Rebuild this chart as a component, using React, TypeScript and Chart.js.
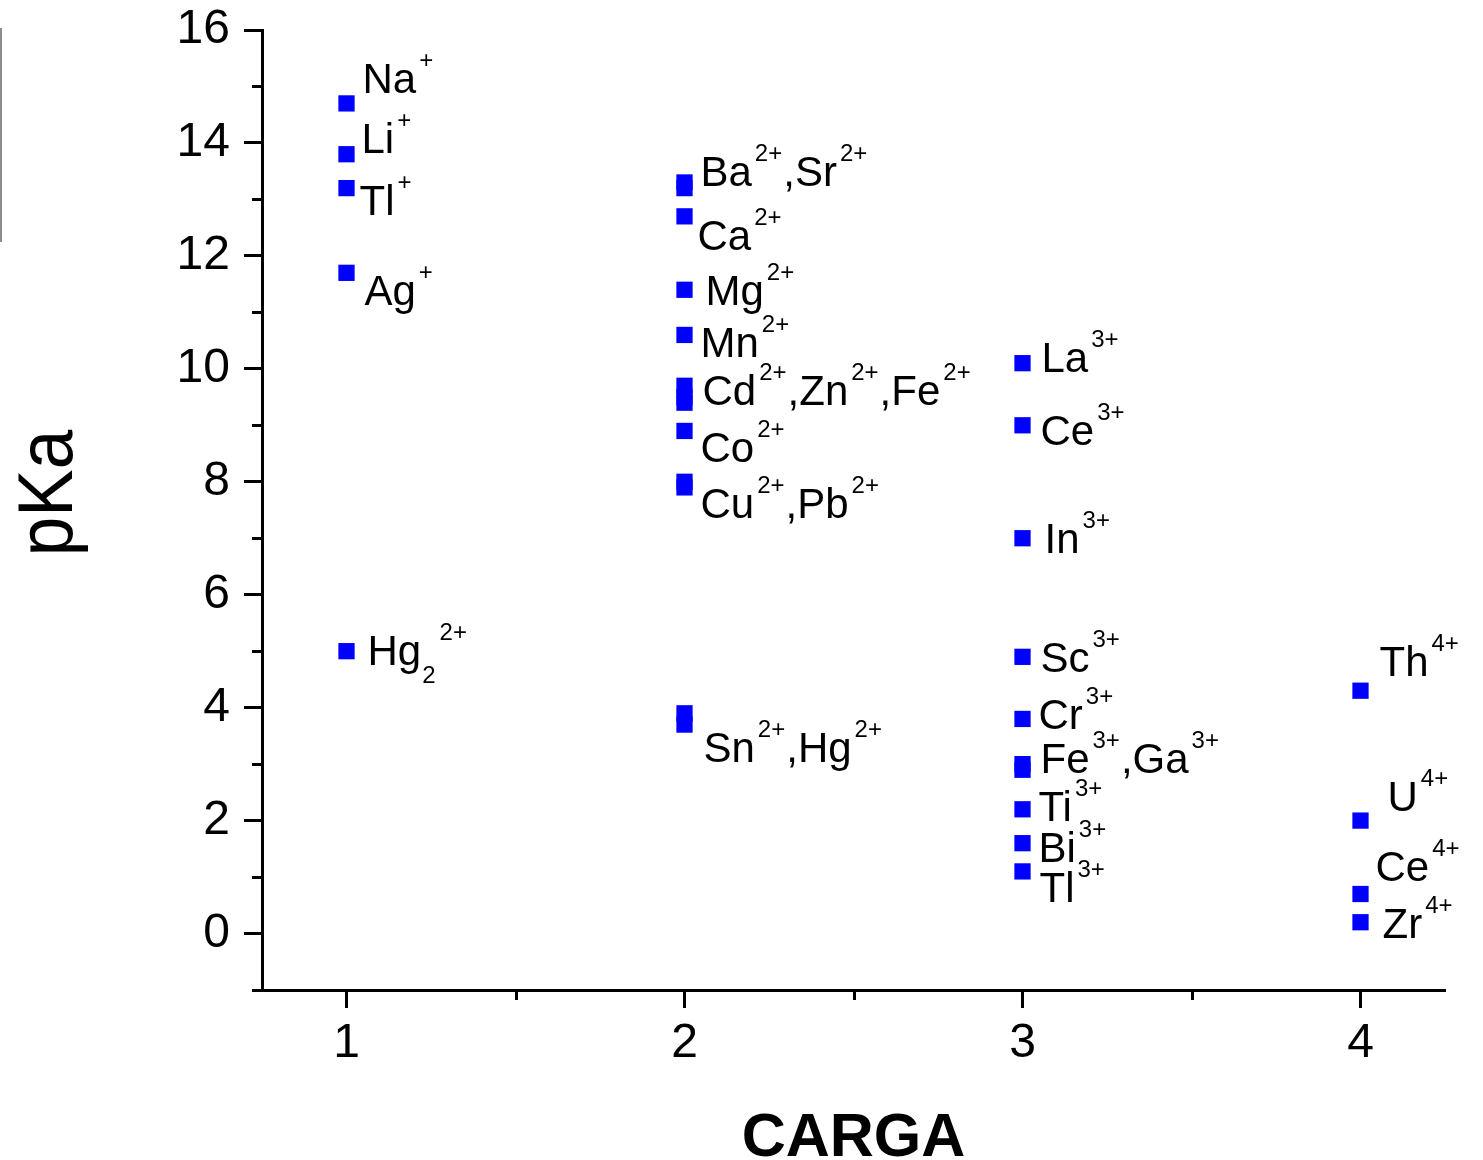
import React, { useEffect, useRef } from 'react';
import { Chart, registerables } from 'chart.js';

Chart.register(...registerables);

// ---------- data ----------
const ions = [
  'Na+', 'Li+', 'Tl+', 'Ag+', 'Hg2 2+',
  'Ba2+', 'Sr2+', 'Ca2+', 'Mg2+', 'Mn2+', 'Cd2+', 'Zn2+', 'Fe2+', 'Co2+', 'Cu2+', 'Pb2+', 'Sn2+', 'Hg2+',
  'La3+', 'Ce3+', 'In3+', 'Sc3+', 'Cr3+', 'Fe3+', 'Ga3+', 'Ti3+', 'Bi3+', 'Tl3+',
  'Th4+', 'U4+', 'Ce4+', 'Zr4+',
];
const charges = [
  1, 1, 1, 1, 1,
  2, 2, 2, 2, 2, 2, 2, 2, 2, 2, 2, 2, 2,
  3, 3, 3, 3, 3, 3, 3, 3, 3, 3,
  4, 4, 4, 4,
];
const pKaValues = [
  14.7, 13.8, 13.2, 11.7, 5.0,
  13.3, 13.2, 12.7, 11.4, 10.6, 9.7, 9.5, 9.4, 8.9, 8.0, 7.9, 3.9, 3.7,
  10.1, 9.0, 7.0, 4.9, 3.8, 3.0, 2.9, 2.2, 1.6, 1.1,
  4.3, 2.0, 0.7, 0.2,
];

const xTickValues = [1, 2, 3, 4];
const xMinorTickValues = [1.5, 2.5, 3.5];
const yTickValues = [0, 2, 4, 6, 8, 10, 12, 14, 16];
const yMinorTickValues = [-1, 1, 3, 5, 7, 9, 11, 13, 15];

const xAxisTitle = 'CARGA';
const yAxisTitle = 'pKa';

// labels: text with ^{sup} and _{sub} markup, attached to an ion
const labelAnchorIons = [
  'Na+', 'Li+', 'Tl+', 'Ag+', 'Hg2 2+',
  'Ba2+', 'Ca2+', 'Mg2+', 'Mn2+', 'Cd2+', 'Co2+', 'Cu2+', 'Sn2+',
  'La3+', 'Ce3+', 'In3+', 'Sc3+', 'Cr3+', 'Fe3+', 'Ti3+', 'Bi3+', 'Tl3+',
  'Th4+', 'U4+', 'Ce4+', 'Zr4+',
];
const labelTexts = [
  'Na^{+}', 'Li^{+}', 'Tl^{+}', 'Ag^{+}', 'Hg_{2}^{2+}',
  'Ba^{2+},Sr^{2+}', 'Ca^{2+}', 'Mg^{2+}', 'Mn^{2+}', 'Cd^{2+},Zn^{2+},Fe^{2+}', 'Co^{2+}', 'Cu^{2+},Pb^{2+}', 'Sn^{2+},Hg^{2+}',
  'La^{3+}', 'Ce^{3+}', 'In^{3+}', 'Sc^{3+}', 'Cr^{3+}', 'Fe^{3+},Ga^{3+}', 'Ti^{3+}', 'Bi^{3+}', 'Tl^{3+}',
  'Th^{4+}', 'U^{4+}', 'Ce^{4+}', 'Zr^{4+}',
];
// pixel offsets (dx to text start, dy to baseline) from the anchor point
const labelOffsets: [number, number][] = [
  [16, -10], [15, -1], [13, 27], [18, 32], [21, 14],
  [16, 4], [13, 34], [21, 15], [16, 22], [18, 19], [16, 31], [16, 36], [19, 49],
  [19, 9], [18, 20], [22, 15], [18, 15], [16, 10], [18, 9], [16, 12], [16, 19], [17, 31],
  [19, -15], [27, -10], [15, -13], [22, 16],
];

// ---------- styling ----------
const FONT = '"Liberation Sans", Arial, Helvetica, sans-serif';
const LABEL_SIZE = 42;
const SCRIPT_SIZE = 24;
const SUP_SHIFT = -25;
const SUB_SHIFT = 18;
const SCRIPT_GAP = 3;

type Part = { text: string; kind: 'n' | 'sup' | 'sub' };

function parseLabel(s: string): Part[] {
  const parts: Part[] = [];
  const re = /(\^|_)\{([^}]*)\}|([^\^_]+)/g;
  let m: RegExpExecArray | null;
  while ((m = re.exec(s))) {
    if (m[3]) parts.push({ text: m[3], kind: 'n' });
    else parts.push({ text: m[2], kind: m[1] === '^' ? 'sup' : 'sub' });
  }
  return parts;
}

const decorPlugin = {
  id: 'decor',
  afterDraw(chart: any) {
    const ctx: CanvasRenderingContext2D = chart.ctx;
    const xs = chart.scales.x;
    const ys = chart.scales.y;
    const area = chart.chartArea;
    ctx.save();

    // minor ticks
    ctx.strokeStyle = '#000';
    ctx.lineWidth = 3;
    yMinorTickValues.forEach((v) => {
      const py = Math.round(ys.getPixelForValue(v)) + 0.5;
      ctx.beginPath();
      ctx.moveTo(area.left - 10, py);
      ctx.lineTo(area.left, py);
      ctx.stroke();
    });
    xMinorTickValues.forEach((v) => {
      const px = Math.round(xs.getPixelForValue(v)) + 0.5;
      ctx.beginPath();
      ctx.moveTo(px, area.bottom);
      ctx.lineTo(px, area.bottom + 10);
      ctx.stroke();
    });

    // ion labels
    ctx.fillStyle = '#000';
    ctx.textAlign = 'left';
    ctx.textBaseline = 'alphabetic';
    labelTexts.forEach((txt, i) => {
      const idx = ions.indexOf(labelAnchorIons[i]);
      const px = xs.getPixelForValue(charges[idx]);
      const py = ys.getPixelForValue(pKaValues[idx]);
      let x = px + labelOffsets[i][0];
      const base = py + labelOffsets[i][1];
      parseLabel(txt).forEach((p) => {
        if (p.kind === 'n') {
          ctx.font = `${LABEL_SIZE}px ${FONT}`;
          ctx.fillText(p.text, x, base);
          x += ctx.measureText(p.text).width;
        } else {
          ctx.font = `${SCRIPT_SIZE}px ${FONT}`;
          x += p.kind === 'sup' ? SCRIPT_GAP : 1;
          ctx.fillText(p.text, x, base + (p.kind === 'sup' ? SUP_SHIFT : SUB_SHIFT));
          x += ctx.measureText(p.text).width + 1;
        }
      });
    });

    // axis titles
    ctx.font = `bold 61px ${FONT}`;
    ctx.textAlign = 'center';
    ctx.fillText(xAxisTitle, (area.left + area.right) / 2, 1156);

    ctx.save();
    ctx.translate(72, 493);
    ctx.rotate(-Math.PI / 2);
    ctx.scale(0.91, 1);
    ctx.font = `78px ${FONT}`;
    ctx.textAlign = 'center';
    ctx.fillText(yAxisTitle, 0, 0);
    ctx.restore();

    // thin grey line at the left edge
    ctx.strokeStyle = '#8c8c8c';
    ctx.lineWidth = 2;
    ctx.beginPath();
    ctx.moveTo(1, 28);
    ctx.lineTo(1, 242);
    ctx.stroke();

    ctx.restore();
  },
};

export default function App() {
  const ref = useRef<HTMLCanvasElement>(null);

  useEffect(() => {
    if (!ref.current) return;
    const chart = new Chart(ref.current, {
      type: 'scatter',
      data: {
        datasets: [
          {
            label: 'pKa',
            data: charges.map((c, i) => ({ x: c, y: pKaValues[i] })),
            pointStyle: 'rect',
            pointRadius: 11.5,
            pointBorderWidth: 0,
            backgroundColor: '#0000ff',
            borderColor: '#0000ff',
          },
        ],
      },
      options: {
        responsive: false,
        animation: false,
        layout: { padding: { top: 30, right: 38, bottom: 0, left: 0 } },
        plugins: {
          legend: { display: false },
          tooltip: { enabled: false },
        },
        scales: {
          x: {
            type: 'linear',
            min: 0.75,
            max: 4.25,
            afterBuildTicks: (scale: any) => {
              scale.ticks = xTickValues.map((v) => ({ value: v }));
            },
            afterFit: (scale: any) => {
              scale.height = 170;
              scale.paddingLeft = 0;
              scale.paddingRight = 0;
            },
            ticks: {
              color: '#000',
              font: { family: FONT, size: 48 },
              padding: 7,
              maxRotation: 0,
              autoSkip: false,
            },
            grid: {
              drawOnChartArea: false,
              tickLength: 18,
              tickWidth: 3,
              tickColor: '#000',
            },
            border: { color: '#000', width: 3 },
          },
          y: {
            type: 'linear',
            min: -1,
            max: 16,
            afterBuildTicks: (scale: any) => {
              scale.ticks = yTickValues.map((v) => ({ value: v }));
            },
            afterFit: (scale: any) => {
              scale.width = 262;
              scale.paddingTop = 0;
              scale.paddingBottom = 0;
            },
            ticks: {
              color: '#000',
              font: { family: FONT, size: 48 },
              padding: 14,
              autoSkip: false,
            },
            grid: {
              drawOnChartArea: false,
              tickLength: 18,
              tickWidth: 3,
              tickColor: '#000',
            },
            border: { color: '#000', width: 3 },
          },
        },
      },
      plugins: [decorPlugin],
    });
    return () => chart.destroy();
  }, []);

  return (
    <div style={{ position: 'absolute', left: 0, top: 0, width: 1483, height: 1160, background: '#fff' }}>
      <canvas ref={ref} width={1483} height={1160} style={{ display: 'block', width: 1483, height: 1160 }} />
    </div>
  );
}
